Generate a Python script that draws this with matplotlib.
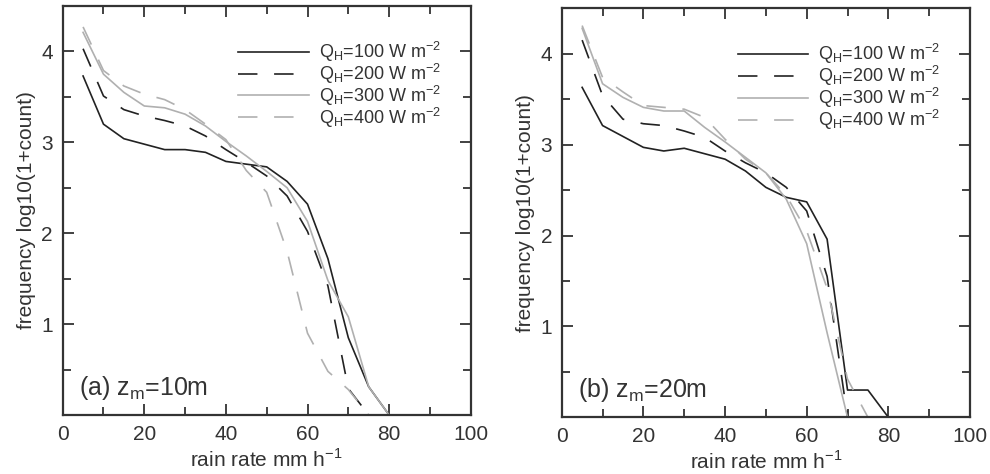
import matplotlib
matplotlib.use("Agg")
import matplotlib.pyplot as plt
from matplotlib.ticker import MultipleLocator

plt.rcParams['font.family'] = ['Liberation Sans', 'DejaVu Sans']
plt.rcParams['mathtext.fontset'] = 'custom'
plt.rcParams['mathtext.rm'] = 'Liberation Sans'
plt.rcParams['lines.scale_dashes'] = False

# rain rate bins (mm/h)
rain = [5, 10, 15, 20, 25, 30, 35, 40, 45, 50, 55, 60, 65, 70, 75, 80]

# (a) z_m = 10 m
a_q100 = [3.73, 3.20, 3.04, 2.98, 2.92, 2.92, 2.89, 2.79, 2.76, 2.73, 2.57, 2.32, 1.72, 0.85, 0.31, 0.0]
a_q200 = [4.03, 3.51, 3.36, 3.29, 3.24, 3.18, 3.07, 2.92, 2.78, 2.63, 2.41, 2.02, 1.42, 0.29, 0.0]
a_q300 = [4.21, 3.75, 3.55, 3.40, 3.38, 3.31, 3.18, 3.01, 2.85, 2.68, 2.50, 2.13, 1.48, 1.08, 0.31, 0.0]
a_q400 = [4.27, 3.79, 3.62, 3.53, 3.47, 3.36, 3.20, 3.03, 2.69, 2.45, 1.80, 0.90, 0.48, 0.28, 0.0]

# (b) z_m = 20 m
b_q100 = [3.63, 3.21, 3.09, 2.97, 2.93, 2.96, 2.90, 2.84, 2.71, 2.53, 2.42, 2.37, 1.96, 0.30, 0.30, 0.0]
b_q200 = [4.15, 3.54, 3.28, 3.23, 3.21, 3.15, 3.08, 2.93, 2.80, 2.69, 2.53, 2.27, 1.55, 0.0]
b_q300 = [4.28, 3.67, 3.52, 3.41, 3.37, 3.37, 3.19, 3.03, 2.86, 2.69, 2.40, 1.91, 0.93, 0.0]
b_q400 = [4.31, 3.74, 3.58, 3.43, 3.41, 3.39, 3.30, 3.06, 2.84, 2.69, 2.44, 2.05, 1.42, 0.42, 0.0]

labels = [r'Q$_\mathrm{H}$=%d W m$^{-2}$' % q for q in (100, 200, 300, 400)]
panel_titles = [r'(a) z$_\mathrm{m}$=10m', r'(b) z$_\mathrm{m}$=20m']

dark = '#222222'
grey = '#b0b0b0'
txt = '#333333'
styles = [(dark, None), (dark, (0, (14, 12))), (grey, None), (grey, (0, (14, 12)))]

fig = plt.figure(figsize=(9.9, 4.74), dpi=100)
ax1 = fig.add_axes([0.0633, 0.1245, 0.4122, 0.8628])
ax2 = fig.add_axes([0.5674, 0.1196, 0.4124, 0.8629])

panels = [(ax1, [a_q100, a_q200, a_q300, a_q400]),
          (ax2, [b_q100, b_q200, b_q300, b_q400])]

for k, (ax, series) in enumerate(panels):
    for s, (col, ls), lab in zip(series, styles, labels):
        kw = dict(color=col, lw=1.2, label=lab)
        if ls is not None:
            kw['linestyle'] = ls
        ax.plot(rain[:len(s)], s, **kw)

    ax.set_xlim(0, 100)
    ax.set_ylim(0, 4.5)
    ax.xaxis.set_major_locator(MultipleLocator(20))
    ax.xaxis.set_minor_locator(MultipleLocator(10))
    ax.set_yticks([1, 2, 3, 4])
    ax.yaxis.set_minor_locator(MultipleLocator(0.5))
    ax.tick_params(which='both', direction='in', top=True, right=True,
                   colors=txt, labelsize=15, width=1.3)
    ax.tick_params(which='major', length=8, pad=7)
    ax.tick_params(which='minor', length=5.5)
    for sp in ax.spines.values():
        sp.set_linewidth(1.6)
        sp.set_color(txt)

    ax.set_xlabel(r'rain rate mm h$^{-1}$', fontsize=15, color=txt, labelpad=3)
    ax.set_ylabel('frequency log10(1+count)', fontsize=15, color=txt, labelpad=4)
    ax.text(0.04, 0.05, panel_titles[k], transform=ax.transAxes,
            fontsize=18, color=txt)

    leg = ax.legend(loc='upper right', bbox_to_anchor=(0.945, 0.935), frameon=False,
                    fontsize=13, handlelength=3.9, handletextpad=0.55,
                    labelspacing=-0.12, borderaxespad=0)
    for t in leg.get_texts():
        t.set_color(txt)

fig.savefig('out.png', dpi=100)
